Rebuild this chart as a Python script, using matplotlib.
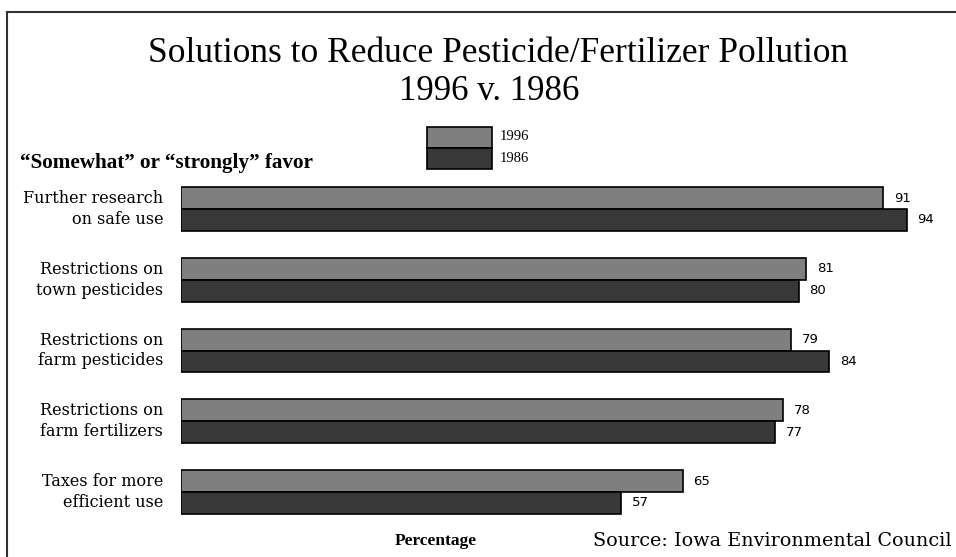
import matplotlib
matplotlib.use("Agg")
import matplotlib.pyplot as plt
from matplotlib.lines import Line2D
from matplotlib.patches import Rectangle
import numpy as np

categories = ["Further research\non safe use", "Restrictions on\ntown pesticides",
              "Restrictions on\nfarm pesticides", "Restrictions on\nfarm fertilizers",
              "Taxes for more\nefficient use"]
vals_1996 = [91, 81, 79, 78, 65]
vals_1986 = [94, 80, 84, 77, 57]
series_names = ["1996", "1986"]
colors = ["#7f7f7f", "#383838"]

W, H = 956, 557
fig = plt.figure(figsize=(W/100, H/100), dpi=100)
serif = "Liberation Serif"
wide = "DejaVu Serif"

def fx(px): return px / W
def fy(py): return 1 - py / H

# frame
fig.add_artist(Line2D([fx(7), 1], [fy(12), fy(12)], color="#333333", lw=1.5))
fig.add_artist(Line2D([fx(7), fx(7)], [fy(12), 0], color="#333333", lw=1.5))

top = 173.6; bot = 527.4
ax = fig.add_axes([fx(181), fy(bot), 1 - fx(181), (bot - top) / H])
ax.set_xlim(0, 100.4)
ax.set_ylim(4.5, -0.5)
ax.axis("off")

y = np.arange(len(categories))
bh = 0.31
ax.barh(y - bh/2, vals_1996, height=bh, color=colors[0], edgecolor="black", linewidth=1.2)
ax.barh(y + bh/2, vals_1986, height=bh, color=colors[1], edgecolor="black", linewidth=1.2)
for i in range(len(categories)):
    ax.text(vals_1996[i] + 1.4, y[i] - bh/2, str(vals_1996[i]), va="center", ha="left",
            fontsize=9.5, family="DejaVu Sans")
    ax.text(vals_1986[i] + 1.4, y[i] + bh/2, str(vals_1986[i]), va="center", ha="left",
            fontsize=9.5, family="DejaVu Sans")
    ax.text(-2.3, y[i], categories[i], ha="right", va="center", fontsize=11.5,
            family=wide, linespacing=1.3)

fig.text(fx(498), fy(53), "Solutions to Reduce Pesticide/Fertilizer Pollution", ha="center",
         va="center", fontsize=25.5, family=serif)
fig.text(fx(489), fy(92), "1996 v. 1986", ha="center", va="center", fontsize=25, family=serif)

# legend
fig.add_artist(Rectangle((fx(427), fy(148)), fx(65), 21/H, facecolor=colors[0],
                         edgecolor="black", lw=1.2))
fig.add_artist(Rectangle((fx(427), fy(169)), fx(65), 21/H, facecolor=colors[1],
                         edgecolor="black", lw=1.2))
fig.text(fx(500), fy(137), series_names[0], ha="left", va="center", fontsize=10.5, family=serif)
fig.text(fx(500), fy(158), series_names[1], ha="left", va="center", fontsize=10.5, family=serif)

fig.text(fx(20), fy(163), "\u201cSomewhat\u201d or \u201cstrongly\u201d favor", ha="left",
         va="center", fontsize=15.2, family=serif, weight="bold")
fig.text(fx(436), fy(541), "Percentage", ha="center", va="center", fontsize=12.5,
         family=serif, weight="bold")
fig.text(fx(593), fy(541), "Source: Iowa Environmental Council", ha="left", va="center",
         fontsize=13.8, family=wide)

fig.savefig("out.png", dpi=100)
